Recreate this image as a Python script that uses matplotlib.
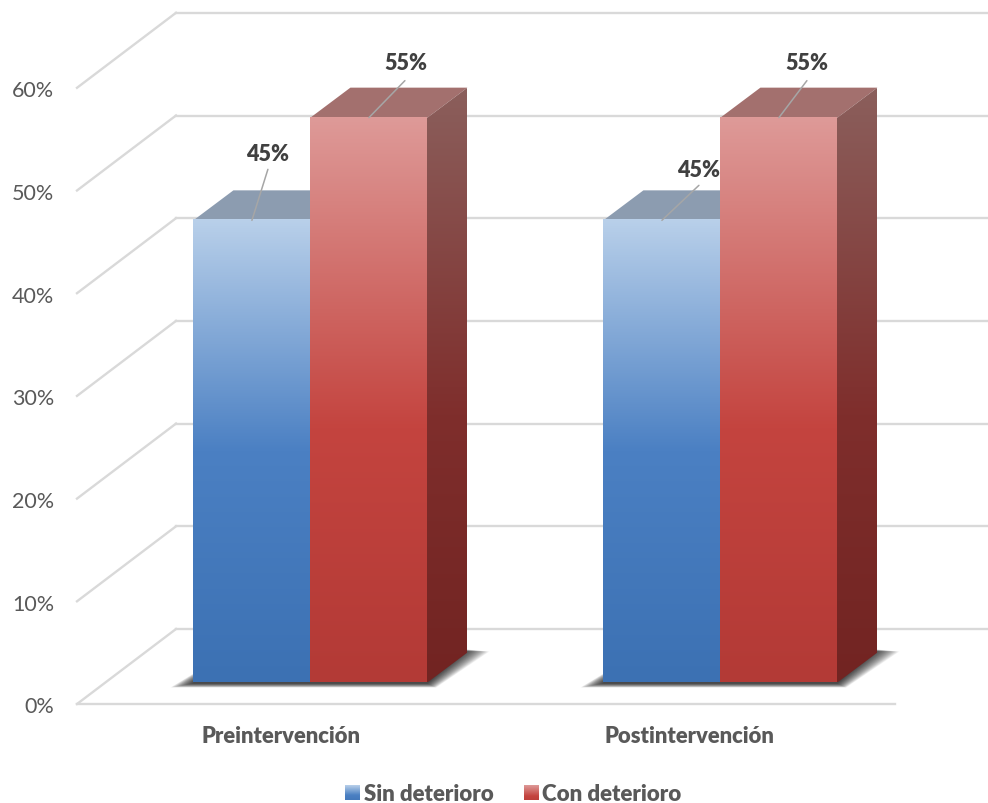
import numpy as np
from matplotlib import pyplot as plt
from matplotlib.colors import LinearSegmentedColormap
from matplotlib.patches import Polygon

plt.rcParams['font.family'] = ['Lato', 'DejaVu Sans']

categories = ['Preintervención', 'Postintervención']
series = ['Sin deterioro', 'Con deterioro']
sin_deterioro = [45, 45]
con_deterioro = [55, 55]
y_ticks = [0, 10, 20, 30, 40, 50, 60]

W, H = 988, 804
px_y = 10.27      # pixels per percent
px_x = 410.0      # pixels per category
base_px = 683.5   # pixel row of 0% at the front of the bars
first_px = 310.4  # pixel column of the first category centre


def dx(p):
    return p / px_x


def dy(p):
    return p / px_y


def x_at(p):
    return (p - first_px) / px_x


def y_at(p):
    return (base_px - p) / px_y


fig = plt.figure(figsize=(W / 100, H / 100), dpi=100)
ax = fig.add_axes([0, 0, 1, 1])
ax.set_axis_off()
xlim = (x_at(0), x_at(W))
ylim = (y_at(H), y_at(0))

# walls and floor
grid = '#D9D9D9'
front_off = y_at(705)
back_off = y_at(630)
for v in y_ticks:
    ax.plot([x_at(77), x_at(176)], [v + front_off, v + back_off], color=grid, lw=1.7, zorder=1)
    ax.plot([x_at(176), x_at(W)], [v + back_off, v + back_off], color=grid, lw=1.7, zorder=1)
    ax.text(x_at(54), v + front_off - dy(2.5), f'{v}%', ha='right', va='center', fontsize=15.5, color='#595959')
ax.plot([x_at(77), x_at(895)], [front_off, front_off], color=grid, lw=1.7, zorder=1)

blue_front = LinearSegmentedColormap.from_list('bf', [(0, '#B9D0EA'), (0.5, '#4B80C3'), (1, '#3C71B3')])
red_front = LinearSegmentedColormap.from_list('rf', [(0, '#DE9A98'), (0.55, '#C4443F'), (1, '#B33A36')])
blue_side = LinearSegmentedColormap.from_list('bs', [(0, '#5F7690'), (0.5, '#2F527F'), (1, '#254A78')])
red_side = LinearSegmentedColormap.from_list('rs', [(0, '#8B5F5C'), (0.55, '#7F2E2C'), (1, '#722422')])
ramp = np.linspace(0, 1, 256).reshape(-1, 1)

bar_w = 117 / px_x
depth_x = dx(40)
depth_y = dy(30)


def shadow(x0, x1):
    # stacked translucent shapes give the soft floor shadow
    for grow in np.linspace(22, 0, 22):
        g = grow / 22
        pts = [(x0 - dx(grow + 1), dy(-1 - g * 4)), (x1 + dx(grow * 0.4), dy(-1 - g * 4)),
               (x1 + depth_x + dx(grow), depth_y + dy(3 - g * 2)), (x0 + depth_x, depth_y + dy(3))]
        ax.add_patch(Polygon(pts, closed=True, fc='black', ec='none', alpha=0.05, zorder=2))


def bar3d(x0, value, front, side, top):
    x1 = x0 + bar_w
    ax.imshow(ramp, cmap=front, extent=(x0, x1, 0, value), aspect='auto', zorder=4)
    ax.add_patch(Polygon([(x0, value), (x1, value), (x1 + depth_x, value + depth_y), (x0 + depth_x, value + depth_y)],
                         closed=True, fc=top, ec='none', zorder=3))
    # side starts a little behind the front face so no seam shows
    lap = dx(2)
    im = ax.imshow(ramp, cmap=side, extent=(x1 - lap, x1 + depth_x, 0, value + depth_y), aspect='auto', zorder=3)
    clip = Polygon([(x1 - lap, 0), (x1, 0), (x1 + depth_x, depth_y), (x1 + depth_x, value + depth_y),
                    (x1, value), (x1 - lap, value)],
                   closed=True, transform=ax.transData)
    im.set_clip_path(clip)


for i in range(len(categories)):
    shadow(i - bar_w, i + bar_w)
    bar3d(i - bar_w, sin_deterioro[i], blue_front, blue_side, '#8C9CB0')
    bar3d(i, con_deterioro[i], red_front, red_side, '#A3706E')

# data labels with leader lines, offsets in pixels from the top of the bar
label_offsets = [
    [(16, 67), (37, 55)],
    [(37, 51), (28, 55)],
]
line_ends = [
    [(16, 51), (36, 37)],
    [(37, 35), (28, 37)],
]
for i in range(len(categories)):
    for j, vals in enumerate([sin_deterioro, con_deterioro]):
        xc = i - bar_w / 2 if j == 0 else i + bar_w / 2
        ax.annotate('', xy=(xc, vals[i]), xytext=line_ends[i][j], textcoords='offset pixels',
                    arrowprops=dict(arrowstyle='-', color='#A6A6A6', lw=1.1, shrinkA=0, shrinkB=0), zorder=6)
        ax.annotate(f'{vals[i]}%', xy=(xc, vals[i]), xytext=label_offsets[i][j], textcoords='offset pixels',
                    ha='center', va='center', fontsize=15.5, fontweight=800, color='#404040', zorder=7)

for i, c in enumerate(categories):
    ax.text(i - dx(29 + 2 * i), y_at(737), c, ha='center', va='center', fontsize=15.8, fontweight=800, color='#595959')

# legend
legend_px = [(345, 364, blue_front), (524, 542, red_front)]
for (sw, tx, cm), name in zip(legend_px, series):
    ax.imshow(ramp * 0.75, cmap=cm, vmin=0, vmax=1, extent=(x_at(sw), x_at(sw + 15), y_at(801), y_at(786)),
              aspect='auto', zorder=4)
    ax.text(x_at(tx), y_at(795), name, ha='left', va='center', fontsize=16, fontweight=800, color='#595959')

ax.set_xlim(xlim)
ax.set_ylim(ylim)
fig.savefig('out.png', dpi=100, facecolor='white')
